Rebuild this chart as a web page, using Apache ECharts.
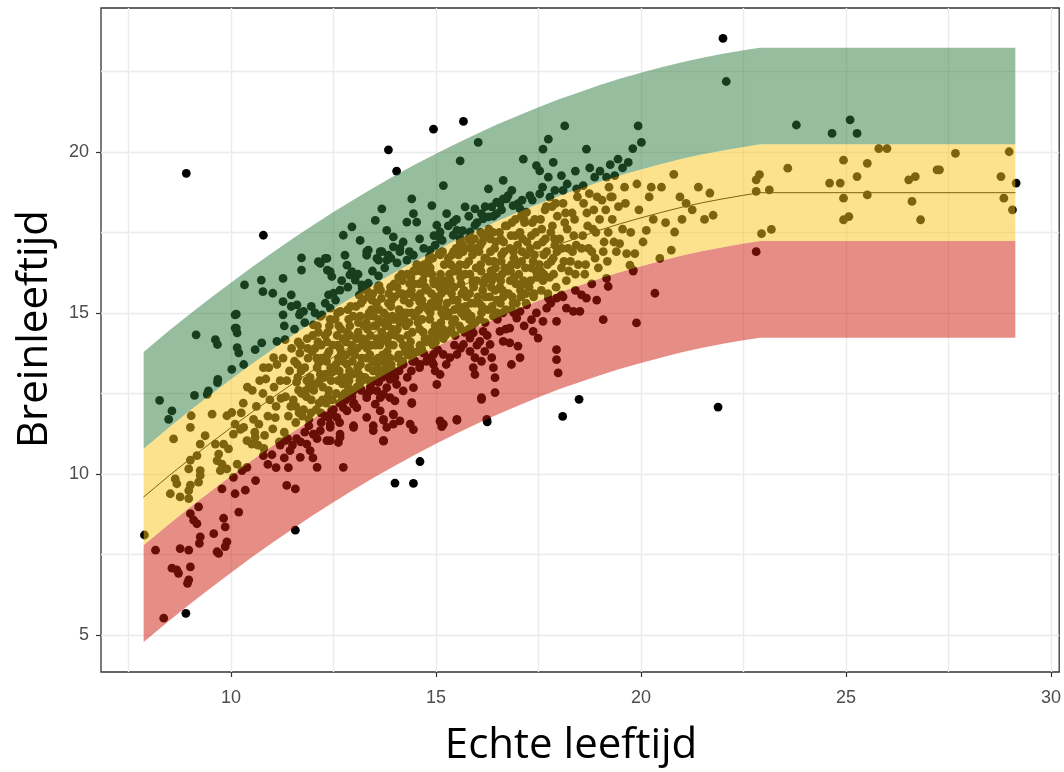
<!DOCTYPE html>
<html><head><meta charset="utf-8">
<script src="https://cdn.jsdelivr.net/npm/echarts@6.0.0/dist/echarts.min.js"></script>
<style>html,body{margin:0;padding:0;background:#fff}#chart{width:1064px;height:772px}</style>
</head><body><div id="chart"></div>
<script>
// ---- axes ----
const xTicks = [10, 15, 20, 25, 30];
const yTicks = [5, 10, 15, 20];
const xGridLines = [7.5, 10, 12.5, 15, 17.5, 20, 22.5, 25, 27.5, 30];
const yGridLines = [5, 7.5, 10, 12.5, 15, 17.5, 20, 22.5];

// ---- norm curve and band edges ----
const ageGrid   = [7.87, 8.5, 9, 9.5, 10, 10.5, 11, 11.5, 12, 12.5, 13, 13.5, 14, 14.5, 15, 15.5, 16, 16.5, 17, 17.5, 18, 18.5, 19, 19.5, 20, 20.5, 21, 21.5, 22, 22.5, 22.9, 29.13];
const meanCurve = [9.29, 9.96, 10.47, 10.96, 11.44, 11.91, 12.36, 12.80, 13.22, 13.63, 14.02, 14.40, 14.76, 15.11, 15.44, 15.76, 16.06, 16.35, 16.62, 16.88, 17.13, 17.35, 17.57, 17.77, 17.95, 18.12, 18.28, 18.42, 18.54, 18.65, 18.73, 18.73];
const redLower  = [4.79, 5.46, 5.97, 6.46, 6.94, 7.41, 7.86, 8.30, 8.72, 9.13, 9.52, 9.90, 10.26, 10.61, 10.94, 11.26, 11.56, 11.85, 12.12, 12.38, 12.63, 12.85, 13.07, 13.27, 13.45, 13.62, 13.78, 13.92, 14.04, 14.15, 14.23, 14.23];
const yellowLower = [7.79, 8.46, 8.97, 9.46, 9.94, 10.41, 10.86, 11.30, 11.72, 12.13, 12.52, 12.90, 13.26, 13.61, 13.94, 14.26, 14.56, 14.85, 15.12, 15.38, 15.63, 15.85, 16.07, 16.27, 16.45, 16.62, 16.78, 16.92, 17.04, 17.15, 17.23, 17.23];
const yellowUpper = [10.79, 11.46, 11.97, 12.46, 12.94, 13.41, 13.86, 14.30, 14.72, 15.13, 15.52, 15.90, 16.26, 16.61, 16.94, 17.26, 17.56, 17.85, 18.12, 18.38, 18.63, 18.85, 19.07, 19.27, 19.45, 19.62, 19.78, 19.92, 20.04, 20.15, 20.23, 20.23];
const greenUpper  = [13.79, 14.46, 14.97, 15.46, 15.94, 16.41, 16.86, 17.30, 17.72, 18.13, 18.52, 18.90, 19.26, 19.61, 19.94, 20.26, 20.56, 20.85, 21.12, 21.38, 21.63, 21.85, 22.07, 22.27, 22.45, 22.62, 22.78, 22.92, 23.04, 23.15, 23.23, 23.23];

// ---- subjects [echte leeftijd, breinleeftijd] ----
const outlierPts = [[7.89,8.11],[8.90,5.68],[8.91,19.33],[10.79,17.41],[11.57,8.26],[14.00,9.72],[14.45,9.71],[14.61,10.39],[16.25,11.62],[18.09,11.79],[18.49,12.32],[21.88,12.08],[13.84,20.06],[14.04,19.40],[14.94,20.70],[15.67,20.94],[22.00,23.52],[29.15,19.03]];

const greenPts = [[8.26,12.29],[8.48,11.70],[8.56,11.96],[9.11,12.44],[9.42,12.47],[9.45,12.58],[9.15,14.32],[9.62,14.17],[9.67,14.02],[10.13,14.96],[10.13,14.53],[10.15,14.38],[10.15,13.92],[10.19,13.76],[10.59,13.86],[10.75,14.07],[10.02,13.25],[10.31,13.40],[9.68,12.94],[9.67,12.84],
[10.33,15.87],[10.74,16.02],[11.27,16.07],[10.78,15.66],[11.02,15.61],[11.47,15.56],[11.27,15.35],[11.47,15.20],[11.61,15.25],[11.96,15.20],[11.27,14.94],[11.67,14.94],[11.77,15.05],[11.72,16.71],[11.72,16.33],[12.18,16.54],[12.34,16.69],[12.35,16.33],[12.22,14.94],[11.12,14.12],[11.69,15.00],[12.01,14.63],[12.18,14.89],[12.42,15.15],[10.79,13.30],[11.04,13.61],[11.32,14.17],
[12.42,16.28],[12.46,16.13],[12.78,16.79],[12.83,16.48],[12.90,16.18],[13.03,16.02],[13.31,16.90],[13.56,16.69],[13.68,16.90],[13.80,16.64],[13.35,15.92],[12.66,15.71],[12.50,15.61],[12.38,15.56],[10.10,14.94],[10.10,14.53],
[12.13,16.59],[12.30,16.69],[12.74,17.41],[12.95,17.67],[13.15,17.25],[13.35,16.95],[13.31,16.79],[13.60,16.64],[13.52,17.87],[13.68,18.23],[13.80,17.56],[13.96,17.36],[13.84,16.79],[13.96,17.05],[14.12,17.00],[14.29,17.82],[14.45,18.08],[14.41,18.54],[14.53,17.82],[14.90,18.33],[15.02,17.72],[15.10,17.51],[15.26,18.08],[15.42,17.82],[15.51,17.56],[15.18,18.95],[15.59,19.72],[16.03,20.29],[15.71,18.29],[15.95,18.23],[16.11,18.08],[16.36,18.29],[16.56,18.39],[16.76,18.64],[16.28,18.85],[16.64,19.11],[16.64,18.54],[16.88,18.33],[17.00,18.39],[17.13,19.77],[17.45,19.57],[17.53,19.41],[17.74,19.21],[17.86,19.67],[17.61,20.08],[17.74,20.39],[17.29,18.64],[17.53,18.69],[17.78,18.59],[18.06,19.26],[18.10,18.80],[18.43,18.85],[18.59,18.95],[18.14,20.80],[18.67,20.08],[18.87,19.21],[19.16,19.21],[19.36,19.26],[19.44,19.77],[19.69,19.67],[19.93,20.80],[20.01,20.29],
[12.95,16.28],[13.03,16.13],[13.19,15.87],[13.31,15.71],[13.64,16.90],[14.12,16.90],[14.29,16.64],[14.45,16.79],[14.53,16.48],[14.86,16.95],[14.98,17.10],[15.10,17.31],[15.42,17.41],[15.59,17.31],[15.83,17.51],[15.95,17.72],[16.15,17.92],[16.28,17.98],[16.48,18.08],[16.48,18.44],[16.72,18.54],[17.05,18.23],[17.21,18.13],
[22.08,22.18],[23.79,20.83],[24.66,20.57],[25.10,20.99],[25.27,20.57],
[11.30,14.6],[11.55,14.5],[11.80,14.7],[12.05,15.0],[12.30,15.3],[12.55,15.4],[12.70,16.0],[12.85,15.8],[13.10,16.2],[13.20,15.75],[13.45,16.3],[13.60,16.15],[13.75,16.4],[13.90,16.7],[14.05,16.55],[14.20,17.2],[14.35,16.9],[14.60,17.3],[14.70,17.0],[14.95,17.4],[15.15,17.25],[15.30,17.7],[15.50,17.9],[15.65,17.55],[15.80,18.0],[16.00,17.8],[16.20,18.3],[16.40,18.0],[16.60,18.2],[16.85,18.8],[17.10,18.5],[17.35,18.5],[17.60,18.9],[17.90,18.8],[18.20,19.0],[18.40,19.4],[18.75,19.5],[19.00,19.4],[19.25,19.6],[19.55,19.5],[19.80,20.1]];

const yellowPts = [[8.60,11.09],[9.01,11.45],[9.03,11.81],[8.97,10.16],[8.64,9.85],[8.68,9.70],[8.52,9.39],[8.76,9.29],[8.97,9.24],[9.01,9.66],[8.97,9.49],[9.21,9.75],[9.25,9.96],[9.01,10.43],[9.17,10.57],[9.25,10.93],[9.37,11.19],[9.62,10.93],[9.70,10.62],[9.54,11.86],[9.90,11.81],[10.02,11.91],[9.82,10.93],[9.94,10.78],[9.66,10.42],[9.78,10.31],[9.90,10.16],[10.06,11.24],[10.23,11.39],[10.10,11.55],[10.31,11.45],[10.39,11.04],[10.51,10.93],[10.59,11.14],[10.15,10.31],[10.27,10.11],[10.39,10.21],[9.74,10.11],[9.25,10.11],[10.30,12.20],[10.40,12.70],[10.25,11.90],
[10.52,12.6],[10.58,11.3],[10.62,12.1],[10.66,10.9],[10.70,12.9],[10.55,11.7],[10.68,11.55],
[10.78,12.5],[10.82,11.2],[10.85,12.95],[10.90,11.8],[10.95,12.3],[10.80,10.8],[10.92,13.3],
[11.02,11.4],[11.05,12.7],[11.10,12.1],[11.12,13.4],[11.18,11.0],[11.20,12.9],[11.08,11.75],[11.22,12.35],
[11.27,13.6],[11.30,11.3],[11.33,12.4],[11.36,12.9],[11.40,11.8],[11.43,13.2],[11.46,12.1],[11.38,11.1],[11.48,13.9],
[11.52,12.3],[11.55,13.5],[11.58,11.6],[11.60,12.85],[11.63,13.0],[11.66,11.9],[11.70,14.0],[11.72,12.5],[11.68,13.75],
[11.77,12.0],[11.80,13.3],[11.83,12.6],[11.86,14.2],[11.90,11.7],[11.93,13.0],[11.96,12.3],[11.98,13.8],[11.85,12.9],
[12.02,12.6],[12.05,13.9],[12.08,12.0],[12.10,13.3],[12.13,14.4],[12.16,12.9],[12.19,11.9],[12.21,13.6],[12.23,12.3],[12.12,14.1],
[12.27,13.0],[12.30,14.3],[12.32,12.2],[12.35,13.7],[12.38,12.6],[12.40,14.6],[12.43,13.3],[12.46,12.0],[12.48,14.0],[12.33,13.5],[12.44,12.9],
[12.52,13.2],[12.54,14.8],[12.57,12.5],[12.60,14.0],[12.62,13.6],[12.65,12.2],[12.68,14.5],[12.70,13.0],[12.72,12.8],[12.60,15.0],[12.66,13.9],[12.73,14.2],
[12.77,12.5],[12.80,14.1],[12.83,13.4],[12.85,15.1],[12.88,12.9],[12.90,14.6],[12.93,13.8],[12.95,12.4],[12.98,14.9],[12.82,13.0],[12.90,14.3],[12.96,13.5],
[13.02,13.7],[13.05,15.2],[13.07,12.7],[13.10,14.4],[13.12,13.1],[13.15,14.9],[13.18,12.6],[13.20,14.0],[13.22,15.4],[13.08,13.9],[13.16,13.4],[13.24,14.6],
[13.27,13.0],[13.30,14.7],[13.32,13.9],[13.35,15.5],[13.38,12.9],[13.40,14.3],[13.43,15.1],[13.45,13.5],[13.48,14.9],[13.29,14.1],[13.36,13.3],[13.46,15.6],[13.41,12.8],
[13.52,14.0],[13.55,15.3],[13.57,13.4],[13.60,14.8],[13.62,13.1],[13.65,15.7],[13.68,14.4],[13.70,13.7],[13.73,15.0],[13.54,14.6],[13.61,15.85],[13.66,13.2],[13.72,14.2],
[13.77,13.3],[13.80,14.9],[13.82,14.1],[13.85,15.6],[13.88,13.6],[13.90,15.2],[13.93,14.5],[13.95,13.2],[13.98,15.9],[13.79,14.6],[13.86,14.0],[13.92,15.4],[13.97,14.8],
[14.02,14.3],[14.05,15.8],[14.07,13.6],[14.10,15.1],[14.12,14.7],[14.15,13.4],[14.18,16.0],[14.20,14.0],[14.22,15.4],[14.08,14.9],[14.14,16.1],[14.24,13.8],[14.17,15.6],
[14.27,14.6],[14.30,16.2],[14.32,13.7],[14.35,15.3],[14.38,14.1],[14.40,15.7],[14.43,13.5],[14.45,16.3],[14.48,14.9],[14.29,15.0],[14.36,15.9],[14.42,14.4],[14.47,15.5],
[14.52,15.0],[14.55,13.8],[14.57,16.4],[14.60,14.5],[14.62,15.6],[14.65,13.9],[14.68,16.0],[14.70,15.2],[14.73,14.2],[14.54,16.5],[14.60,15.35],[14.66,14.8],[14.72,16.2],
[14.77,14.1],[14.80,15.7],[14.82,16.6],[14.85,14.8],[14.88,15.3],[14.90,16.2],[14.93,14.0],[14.95,15.9],[14.98,14.6],[14.79,16.4],[14.86,15.0],[14.92,16.7],[14.97,15.5],
[15.02,14.3],[15.05,16.0],[15.07,15.4],[15.10,16.8],[15.12,14.7],[15.15,15.8],[15.18,14.2],[15.20,16.5],[15.22,15.1],[15.08,16.85],[15.14,15.0],[15.24,15.7],[15.17,14.5],
[15.27,15.3],[15.30,16.7],[15.32,14.4],[15.35,16.0],[15.38,15.6],[15.40,14.7],[15.43,16.9],[15.45,15.1],[15.48,16.3],[15.29,14.9],[15.36,16.5],[15.44,15.8],[15.47,14.3],
[15.52,15.4],[15.55,16.8],[15.57,14.6],[15.60,16.1],[15.62,15.0],[15.65,17.1],[15.68,15.7],[15.70,14.4],[15.73,16.5],[15.54,16.3],[15.61,15.9],[15.69,17.0],[15.72,15.2],
[15.77,15.0],[15.80,16.6],[15.82,15.6],[15.85,17.2],[15.88,14.6],[15.90,16.0],[15.93,16.9],[15.95,15.3],[15.98,16.4],[15.79,17.3],[15.86,14.9],[15.92,15.8],[15.97,17.0],
[16.02,15.5],[16.05,16.9],[16.07,14.8],[16.10,16.3],[16.12,15.2],[16.15,17.4],[16.18,16.0],[16.20,14.7],[16.22,16.7],[16.08,17.1],[16.14,15.7],[16.24,17.45],
[16.27,15.1],[16.30,16.6],[16.32,17.3],[16.35,15.8],[16.38,16.2],[16.40,14.9],[16.43,17.0],[16.45,16.4],[16.48,15.4],[16.29,17.6],[16.36,16.0],[16.46,15.0],
[16.52,16.1],[16.55,17.5],[16.57,15.3],[16.60,16.8],[16.62,15.7],[16.65,17.2],[16.68,16.4],[16.70,15.1],[16.73,17.7],[16.58,16.0],[16.64,15.5],
[16.77,15.6],[16.80,17.0],[16.82,16.3],[16.85,17.8],[16.88,15.3],[16.90,16.7],[16.93,17.4],[16.95,15.9],[16.98,16.5],[16.84,15.1],
[17.02,16.2],[17.05,17.5],[17.07,15.5],[17.10,16.9],[17.12,15.9],[17.15,17.9],[17.18,16.4],[17.20,15.3],[17.22,17.2],
[17.27,15.8],[17.30,17.0],[17.32,16.4],[17.35,17.8],[17.38,15.5],[17.40,16.8],[17.43,17.5],[17.46,16.1],
[17.52,16.5],[17.55,17.9],[17.57,15.7],[17.60,17.2],[17.63,16.2],[17.66,18.2],[17.70,16.9],[17.73,15.6],
[17.77,16.1],[17.80,17.5],[17.83,18.3],[17.86,16.7],[17.90,17.1],[17.93,15.8],[17.96,18.0],
[18.02,17.3],[18.06,16.4],[18.10,18.4],[18.14,17.8],[18.18,16.0],[18.22,17.0],
[18.28,16.6],[18.32,18.1],[18.36,17.4],[18.40,16.2],[18.45,18.6],
[18.55,17.0],[18.60,18.4],[18.65,16.5],[18.70,17.7],[18.74,18.7],
[18.80,16.9],[18.85,18.2],[18.90,17.5],[18.96,16.4],
[19.05,18.5],[19.10,17.2],[19.18,16.6],[19.22,18.9],[19.30,17.9],[19.40,16.9],[19.48,17.15],
[20.13,17.56],[20.82,17.51],[19.65,16.84],[19.85,16.84],[19.73,16.48],[20.46,16.69],[20.74,16.95],
[19.60,18.9],[19.90,19.0],[20.20,18.6],[20.50,18.9],[20.80,19.3],[21.10,18.4],[21.40,18.9],[20.30,17.9],[19.30,18.6],[21.00,17.9],
[21.68,18.72],[21.76,18.03],[22.81,19.13],[22.89,19.29],[22.81,18.77],[23.13,18.82],[22.94,17.46],[23.18,17.59],[23.58,19.49],[24.60,19.03],[24.86,19.03],[24.94,19.74],[24.94,18.56],[24.94,17.89],[25.07,17.99],[25.27,19.23],[25.52,19.64],[25.52,18.66],[25.80,20.10],[26.00,20.10],[26.53,19.13],[26.69,19.23],[26.61,18.46],[26.82,17.89],[27.22,19.44],[27.28,19.44],[27.67,19.95],[28.78,19.23],[28.85,18.56],[28.98,20.00],[29.06,18.20],
[11.58,12.1],[11.62,13.4],[11.65,12.6],[11.71,13.2],[11.74,11.8],[11.64,14.1],
[11.84,12.4],[11.88,13.6],[11.91,12.8],[11.95,11.9],[11.99,14.3],[11.87,13.9],
[12.06,12.8],[12.09,13.6],[12.11,14.6],[12.15,12.2],[12.18,13.1],[12.20,14.0],[12.24,12.7],[12.14,13.45],
[12.31,13.1],[12.34,14.1],[12.37,12.4],[12.39,13.8],[12.42,14.8],[12.45,13.15],[12.47,12.3],[12.36,14.4],
[12.56,13.4],[12.59,14.3],[12.61,12.9],[12.64,13.2],[12.67,15.05],[12.69,13.75],[12.71,12.4],[12.63,14.6],[12.74,13.5],
[12.81,13.7],[12.84,14.4],[12.86,12.7],[12.89,13.2],[12.92,15.2],[12.94,14.0],[12.97,13.1],[12.87,14.8],[12.99,12.6],
[13.06,14.2],[13.09,13.3],[13.11,14.7],[13.14,12.9],[13.17,15.3],[13.19,13.6],[13.21,14.2],[13.13,15.55],[13.23,13.0],
[13.31,13.6],[13.33,14.5],[13.37,15.0],[13.39,13.7],[13.42,14.0],[13.44,15.4],[13.47,13.2],[13.34,14.9],[13.49,14.6],
[13.56,14.2],[13.59,13.6],[13.61,15.1],[13.63,14.0],[13.67,15.45],[13.69,13.0],[13.71,14.7],[13.58,15.8],[13.74,13.5],
[13.81,13.8],[13.84,15.3],[13.87,14.3],[13.89,15.8],[13.91,13.4],[13.94,14.9],[13.96,14.0],[13.83,14.7],[13.99,15.5],
[14.06,14.5],[14.09,13.7],[14.11,15.6],[14.13,14.2],[14.16,16.2],[14.19,13.5],[14.21,15.0],[14.09,16.1],[14.23,14.8],
[14.31,14.3],[14.33,15.6],[14.37,13.9],[14.39,16.1],[14.41,15.0],[14.44,13.7],[14.46,15.9],[14.34,14.7],[14.49,16.3],
[14.56,14.7],[14.58,15.9],[14.61,14.0],[14.63,16.3],[14.66,15.4],[14.69,14.4],[14.71,16.5],[14.59,15.1],[14.74,15.8],
[14.81,15.1],[14.83,14.2],[14.86,16.4],[14.89,15.6],[14.91,14.4],[14.94,16.0],[14.96,15.2],[14.84,16.75],[14.99,14.1],
[15.06,15.2],[15.09,14.4],[15.11,16.2],[15.13,15.6],[15.16,16.9],[15.19,14.9],[15.21,16.0],[15.09,15.8],[15.23,14.3],
[15.31,15.0],[15.33,16.2],[15.37,14.5],[15.39,16.8],[15.41,15.4],[15.44,16.4],[15.46,14.8],[15.34,15.9],[15.49,17.0],
[15.56,15.2],[15.58,16.5],[15.61,14.5],[15.63,15.6],[15.66,16.9],[15.69,14.9],[15.71,16.2],[15.59,17.2],[15.74,15.5],
[15.81,14.8],[15.83,16.2],[15.86,15.3],[15.89,16.8],[15.91,15.9],[15.94,17.3],[15.96,14.7],[15.84,17.0],[15.99,16.0],
[16.06,15.3],[16.09,16.5],[16.11,15.0],[16.13,17.2],[16.16,15.9],[16.19,16.7],[16.21,15.5],[16.09,17.5],[16.23,16.1],
[16.31,15.5],[16.33,16.9],[16.37,15.2],[16.39,17.5],[16.41,16.6],[16.44,15.7],[16.46,17.2],[16.34,16.3],[16.49,15.0],
[16.56,15.8],[16.58,17.3],[16.61,16.2],[16.63,15.0],[16.66,16.9],[16.69,17.7],[16.71,15.6],[16.59,16.6],[16.74,16.3],
[16.81,16.0],[16.83,17.4],[16.86,15.5],[16.89,16.9],[16.91,16.1],[16.94,17.9],[16.96,15.3],[16.84,16.5],[16.99,17.1],
[17.06,15.7],[17.09,16.6],[17.11,17.3],[17.13,16.0],[17.16,17.8],[17.19,15.6],[17.21,16.8],[17.08,18.0],
[17.31,16.0],[17.33,17.4],[17.37,16.6],[17.39,15.6],[17.41,17.9],[17.44,16.3],[17.47,17.1],
[17.56,16.3],[17.58,17.6],[17.61,16.0],[17.63,16.8],[17.67,17.3],[17.69,18.3],[17.72,16.5],
[17.81,16.6],[17.84,17.7],[17.87,16.2],[17.89,17.3],[17.92,18.4],[17.95,16.9],
[18.07,17.0],[18.12,16.6],[18.16,18.1],[18.20,17.6],[18.24,16.3],
[18.33,16.9],[18.38,17.9],[18.42,17.1],[18.47,16.5],
[18.58,17.4],[18.63,16.2],[18.68,18.1],[18.72,17.0],
[18.83,17.6],[18.88,16.7],[18.93,18.6],[18.99,17.9],
[19.08,16.9],[19.14,18.2],[19.20,17.5],[19.26,18.6],[19.34,17.2],[19.45,18.3],[19.55,17.6],[19.62,18.4],[19.75,17.5],[19.95,18.2],[20.05,17.2],[20.25,18.9],[20.60,17.8],[20.95,18.6],[21.25,18.2],[21.55,17.9]];

const redPts = [[8.16,7.64],[8.76,7.69],[8.97,7.64],[8.56,7.08],[8.68,7.03],[8.72,6.92],[9.01,7.12],[8.97,6.72],[8.94,6.61],[8.36,5.53],[9.25,8.05],[9.23,7.85],[9.58,8.15],[9.86,8.36],[9.90,7.90],[9.86,7.75],[9.70,7.54],[9.66,7.59],[9.01,8.77],[9.09,8.57],[9.17,8.46],[9.21,8.98],[9.78,9.54],[9.82,8.63],[10.06,9.90],[10.10,9.39],[10.35,9.50],[10.19,8.82],[10.79,10.57],[11.36,9.65],[11.57,9.54],[11.32,11.04],[11.44,10.73],[11.69,10.52],[11.93,10.73],[12.10,10.21],[12.01,11.24],[12.42,11.04],[12.62,10.98],[12.38,11.76],[12.42,11.45],[12.66,11.24],[12.74,10.21],[12.99,11.50],[13.47,11.50],[13.72,11.70],[13.96,11.86],[13.72,11.04],[12.83,11.96],[13.07,12.06],[13.31,12.47],[13.56,12.58],[13.96,12.99],[13.88,12.37],
[19.08,14.79],[19.89,14.69],[19.16,16.07],[19.20,15.82],[19.81,16.30],[18.67,15.46],[18.92,15.40],[18.55,15.56],[17.94,15.46],[18.06,15.56],[17.74,15.46],[17.70,15.15],[18.18,15.15],[18.35,15.05],[18.51,15.05],[17.94,14.74],[17.61,14.74],[17.33,14.79],[17.37,14.43],[17.49,14.22],[17.94,13.86],[17.94,13.55],[17.98,13.14],[17.00,13.97],[16.84,13.40],[17.05,13.61],[16.64,14.12],[16.80,14.07],[16.56,14.43],[16.80,14.53],[16.97,14.84],[17.05,15.05],[17.21,15.25],[16.32,14.02],[16.36,13.61],[16.19,13.81],[16.11,13.50],[16.40,13.30],[16.44,12.99],[15.95,13.61],[15.91,13.30],[15.95,13.09],[15.83,13.81],[15.67,14.02],[15.51,13.71],[15.34,13.61],[15.18,13.71],[16.07,14.12],[16.15,14.43],[15.83,14.22],[15.91,14.38],[14.94,13.40],[14.98,13.20],[15.10,13.09],[15.02,12.78],[14.94,13.71],[14.77,13.50],[14.61,13.40],[14.49,13.50],[14.45,12.68],[14.20,12.58],[14.04,12.78],[13.88,12.94],[13.80,12.68],[13.72,12.47],[13.64,12.37],[13.52,12.17],[13.39,12.58],[13.31,12.37],[14.41,12.22],[15.10,11.65],[15.18,11.55],[15.51,11.70],[16.11,12.37],[16.44,12.53],[16.24,11.70],[12.90,12.58],[13.15,12.68],[12.99,12.17],[12.74,12.06],[12.58,11.76],[12.42,11.55],[12.18,11.35],[12.01,11.24],[11.85,10.93],[12.34,11.04],[12.66,11.14],[12.99,11.45],[13.31,11.76],[13.64,11.96],[13.80,11.45],[13.96,11.55],[14.12,11.65],[13.72,11.04],[13.47,11.35],
[14.00,12.27],[14.41,12.19],[13.72,11.67],[13.96,11.84],[14.37,11.55],[14.45,11.38],[15.10,11.63],[15.14,11.47],[15.51,11.67],[13.72,11.02],[16.11,12.32],
[19.81,16.33],[20.34,15.61],[22.81,16.90],
[13.50,12.9],[13.70,13.1],[14.10,13.2],[14.30,13.0],[14.60,13.3],[14.80,13.6],[11.00,10.6],[11.20,10.9],[11.60,11.1],[11.80,11.3],[12.20,11.6],[12.45,11.9],[10.90,10.3],[10.60,9.8],[11.40,10.2],[12.00,10.5],
[11.10,10.2],[11.30,10.5],[11.50,10.9],[11.70,11.0],[11.90,11.5],[12.10,11.1],[12.30,11.8],[12.50,12.0],[12.65,11.6],[12.80,12.3],[13.00,12.2],[13.20,12.9],[13.40,12.7],[13.60,12.85],[13.85,13.1],[14.00,13.0],[14.20,13.4],[14.40,13.2],[14.70,13.75],[14.90,13.5],[15.05,13.85],[15.25,13.4],[15.45,14.0],[15.60,13.9],[15.80,14.5],[16.00,14.0],[16.25,14.3],[16.50,14.8],[16.70,14.5],[16.90,15.0],[17.15,14.6],[17.45,15.0],[17.80,15.3],[18.10,15.5],[18.40,15.7],[18.80,15.9]];

// ---- build option ----
const pair = (xs, ys) => xs.map((x, i) => [x, ys[i]]);
const allPts = outlierPts.concat(greenPts, yellowPts, redPts);
const gridLineStyle = { type: 'solid', color: '#ebebeb', width: 1.4 };

// band between two edge arrays, drawn as one polygon through the axis scales
function band(name, lower, upper, color) {
  return {
    name: name, type: 'custom', coordinateSystem: 'cartesian2d', z: 3, silent: true, clip: true,
    data: [[ageGrid[0], lower[0]]],
    renderItem: function (params, api) {
      const pts = [];
      for (let i = 0; i < ageGrid.length; i++) pts.push(api.coord([ageGrid[i], upper[i]]));
      for (let i = ageGrid.length - 1; i >= 0; i--) pts.push(api.coord([ageGrid[i], lower[i]]));
      return { type: 'polygon', shape: { points: pts }, style: { fill: color } };
    }
  };
}

const chart = echarts.init(document.getElementById('chart'));
chart.setOption({
  animation: false,
  backgroundColor: '#ffffff',
  grid: { left: 101, right: 4, top: 8, bottom: 96, show: true, borderColor: '#333333', borderWidth: 1.3, backgroundColor: 'transparent' },
  xAxis: {
    type: 'value', min: 6.83, max: 30.2,
    name: 'Echte leeftijd', nameLocation: 'middle', nameGap: 53,
    nameTextStyle: { fontFamily: 'Open Sans', fontSize: 42, color: '#000', padding: [0, 18, 0, 0] },
    axisLine: { show: false },
    axisTick: { show: true, customValues: xTicks, length: 5, lineStyle: { color: '#333', width: 1.2 } },
    axisLabel: { customValues: xTicks, color: '#4d4d4d', fontSize: 18, fontFamily: 'Liberation Sans', margin: 17 },
    splitLine: { show: false }
  },
  yAxis: {
    type: 'value', min: 3.86, max: 24.46,
    name: 'Breinleeftijd', nameLocation: 'middle', nameGap: 45,
    nameTextStyle: { fontFamily: 'Open Sans', fontSize: 42, color: '#000', padding: [0, 0, 0, 22] },
    axisLine: { show: false },
    axisTick: { show: true, customValues: yTicks, length: 5, lineStyle: { color: '#333', width: 1.2 } },
    axisLabel: { customValues: yTicks, color: '#4d4d4d', fontSize: 18, fontFamily: 'Liberation Sans', margin: 12 },
    splitLine: { show: false }
  },
  series: [
    { type: 'line', data: [], z: 1, silent: true,
      markLine: { silent: true, z: 1, symbol: ['none', 'none'], label: { show: false }, lineStyle: gridLineStyle, animation: false,
        data: xGridLines.map(v => ({ xAxis: v })).concat(yGridLines.map(v => ({ yAxis: v }))) } },
    { name: 'Proefpersonen', type: 'scatter', data: allPts, symbolSize: 8.8, itemStyle: { color: '#000', opacity: 1 }, z: 2, silent: true, large: false, progressive: 0 },
    { name: 'Norm', type: 'line', data: pair(ageGrid, meanCurve), showSymbol: false, symbol: 'none', lineStyle: { color: '#000', width: 1 }, z: 2, silent: true },
    band('Achter', redLower, yellowLower, 'rgba(205,29,13,0.5)'),
    band('Gemiddeld', yellowLower, yellowUpper, 'rgba(251,197,29,0.5)'),
    band('Voor', yellowUpper, greenUpper, 'rgba(47,123,63,0.5)')
  ]
});
</script>
</body></html>
